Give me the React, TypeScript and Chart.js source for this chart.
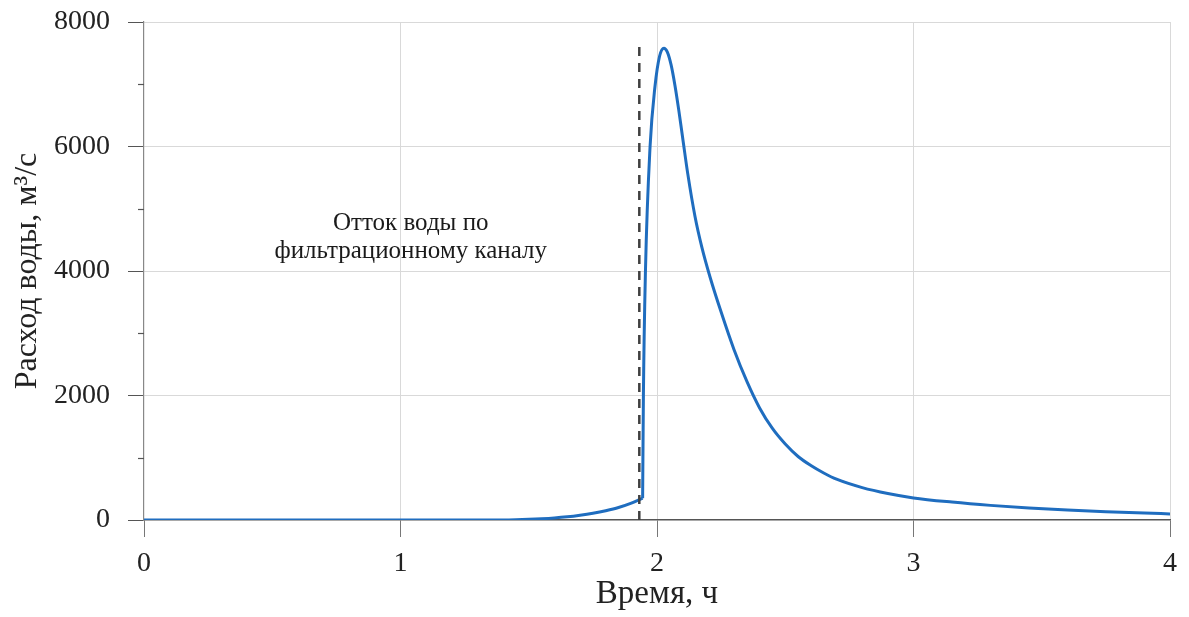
import React, { useEffect, useRef } from "react";
import { Chart, registerables } from "chart.js";

Chart.register(...registerables);

// Before the breach (seepage outflow)
const preTime = [0, 0.5, 1.0, 1.2, 1.4, 1.45, 1.5, 1.55, 1.6, 1.65, 1.7, 1.75, 1.8, 1.85, 1.9, 1.944];
const preFlow = [0, 0, 1, 1, 2, 5, 11, 20, 33, 52, 78, 110, 150, 200, 270, 350];

// After the breach
const postTime = [1.944, 1.947, 1.955, 1.973, 1.992, 2.01, 2.027, 2.04, 2.055, 2.07, 2.085, 2.1, 2.12, 2.148, 2.175, 2.207, 2.25, 2.3, 2.35, 2.4, 2.45, 2.5, 2.55, 2.6, 2.65, 2.7, 2.8, 2.9, 3.0, 3.15, 3.3, 3.45, 3.6, 3.75, 3.9, 4.0];
const postFlow = [350, 2000, 4000, 6000, 6960, 7450, 7580, 7520, 7310, 6980, 6580, 6140, 5560, 4880, 4380, 3900, 3340, 2740, 2230, 1800, 1470, 1220, 1020, 875, 755, 655, 520, 425, 355, 288, 235, 193, 160, 133, 111, 98];

const breachTime = [1.931, 1.931];
const breachLevel = [0, 7680];

const xTicks = [0, 1, 2, 3, 4];
const yMajorTicks = [0, 2000, 4000, 6000, 8000];
const yMinorTicks = [1000, 3000, 5000, 7000];

const annotationLines = ["Отток воды по", "фильтрационному каналу"];
const annotationX = 1.04;
const annotationY = [4659, 4209];

const xTitle = "Время, ч";
const yTitle = "Расход воды, м³/с";

const FONT = "'Liberation Serif', 'Times New Roman', serif";
const CURVE = "#1f6dbf";

export default function App() {
  const canvasRef = useRef<HTMLCanvasElement | null>(null);

  useEffect(() => {
    if (!canvasRef.current) return;

    const extras = {
      id: "extras",
      afterDatasetsDraw(chart: any) {
        const ctx = chart.ctx;
        const xs = chart.scales.x;
        const ys = chart.scales.y;
        ctx.save();
        ctx.strokeStyle = "#555";
        ctx.lineWidth = 1.2;
        yMinorTicks.forEach((v) => {
          const py = Math.round(ys.getPixelForValue(v)) + 0.5;
          ctx.beginPath();
          ctx.moveTo(chart.chartArea.left - 6, py);
          ctx.lineTo(chart.chartArea.left, py);
          ctx.stroke();
        });
        ctx.fillStyle = "#1a1a1a";
        ctx.font = `25px ${FONT}`;
        ctx.textAlign = "center";
        ctx.textBaseline = "alphabetic";
        annotationLines.forEach((t, i) => {
          ctx.fillText(t, xs.getPixelForValue(annotationX), ys.getPixelForValue(annotationY[i]));
        });
        ctx.restore();
      },
    };

    const chart = new Chart(canvasRef.current, {
      type: "line",
      data: {
        datasets: [
          {
            data: breachTime.map((t, i) => ({ x: t, y: breachLevel[i] })),
            borderColor: "#404040",
            borderWidth: 2.5,
            borderDash: [9, 7],
            pointRadius: 0,
            fill: false,
          },
          {
            data: preTime.map((t, i) => ({ x: t, y: preFlow[i] })),
            borderColor: CURVE,
            borderWidth: 3,
            pointRadius: 0,
            cubicInterpolationMode: "monotone",
            fill: false,
          },
          {
            data: postTime.map((t, i) => ({ x: t, y: postFlow[i] })),
            borderColor: CURVE,
            borderWidth: 3,
            pointRadius: 0,
            cubicInterpolationMode: "monotone",
            fill: false,
          },
        ],
      },
      plugins: [extras],
      options: {
        animation: false,
        responsive: true,
        maintainAspectRatio: false,
        layout: { padding: { top: 22, right: 19, left: 0, bottom: 0 } },
        plugins: {
          legend: { display: false },
          tooltip: { enabled: false },
        },
        scales: {
          x: {
            type: "linear",
            min: 0,
            max: 4,
            afterFit: (s: any) => {
              s.height = 97;
              s.paddingLeft = 0;
              s.paddingRight = 0;
            },
            afterBuildTicks: (s: any) => {
              s.ticks = xTicks.map((v) => ({ value: v }));
            },
            ticks: {
              font: { family: FONT, size: 28 },
              color: "#222",
              padding: 10,
              maxRotation: 0,
              callback: (v: any) => String(v),
            },
            grid: {
              color: (c: any) => (c.tick && c.tick.value === 0 ? "rgba(0,0,0,0)" : "#d9d9d9"),
              tickColor: "#777",
              tickLength: 17,
              lineWidth: 1,
            },
            border: { color: "#555", width: 1.5 },
            title: {
              display: true,
              text: xTitle,
              font: { family: FONT, size: 33 },
              color: "#222",
              padding: { top: 0, bottom: 3 },
            },
          },
          y: {
            type: "linear",
            min: 0,
            max: 8000,
            afterFit: (s: any) => {
              s.width = 144;
              s.paddingTop = 0;
              s.paddingBottom = 0;
            },
            afterBuildTicks: (s: any) => {
              s.ticks = yMajorTicks.map((v) => ({ value: v }));
            },
            ticks: {
              font: { family: FONT, size: 28 },
              color: "#222",
              padding: 18,
              callback: (v: any) => String(v),
            },
            grid: {
              color: (c: any) => (c.tick && c.tick.value === 0 ? "rgba(0,0,0,0)" : "#d9d9d9"),
              tickColor: "#555",
              tickLength: 16,
              lineWidth: 1,
            },
            border: { color: "#888", width: 1.2 },
            title: {
              display: true,
              text: yTitle,
              font: { family: FONT, size: 32 },
              color: "#222",
              padding: { top: 8, bottom: 0 },
            },
          },
        },
      },
    } as any);

    return () => chart.destroy();
  }, []);

  return (
    <div style={{ position: "fixed", left: 0, top: 0, width: 1189, height: 617, background: "#fff" }}>
      <canvas ref={canvasRef} />
    </div>
  );
}
